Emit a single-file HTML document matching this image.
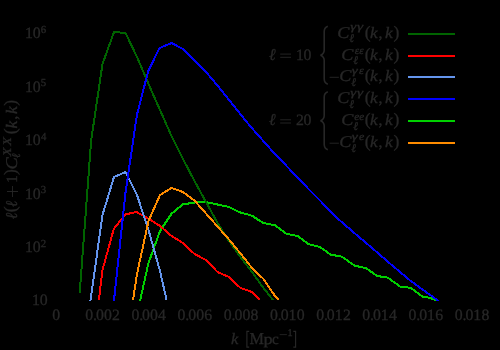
<!DOCTYPE html>
<html><head><meta charset="utf-8"><title>plot</title>
<style>
html,body{margin:0;padding:0;background:#000;}
body{width:500px;height:350px;overflow:hidden;font-family:"Liberation Serif",serif;}
svg{display:block;}
text{font-family:"Liberation Serif",serif;fill:#272727;stroke:#272727;stroke-width:0.32px;text-rendering:geometricPrecision;}
</style></head><body>
<svg width="500" height="350" viewBox="0 0 500 350">
<rect width="500" height="350" fill="#000"/>
<defs><filter id="f" x="0" y="0" width="500" height="350" filterUnits="userSpaceOnUse"><feOffset dx="0" dy="0"/></filter><clipPath id="ax"><rect x="56" y="20" width="415" height="281"/></clipPath></defs>
<g clip-path="url(#ax)" fill="none" stroke-width="2" stroke-linejoin="round" stroke-linecap="butt" shape-rendering="crispEdges">
<polyline stroke="#00d000" points="140,301 148.5,263 160,231 171.5,213.8 182.6,204.5 194.5,202.5 206,202 217.5,204.5 229,207 240,212.4 252,215.7 262.8,222.8 274.8,225.2 286.8,234 297.4,235.9 308.2,244 320,247 330.6,254.6 342,256.7 354.4,265.6 366,268.2 377.3,276 388,277.7 400,286.5 410.8,287.8 422.6,296.7 428,297.5 432.4,298.8 436.8,300.2"/>
<polyline stroke="#006400" points="79.7,293 91.2,140 102.5,64 114,32 125.5,33 136.8,56.5 148.3,83.5 160,110 171.5,136 183,159 194.5,181 206,202 217.5,223 229,241 240.5,257 252,272 263.5,288 273,300"/>
<polyline stroke="#ff0000" points="99,300 100.6,285 102.5,270 113.8,228.8 125.5,214.4 136.5,212 148.5,218.7 160,226 171.5,236 183,243 194.5,254 206,260 217.5,272 229,277 240.5,288 252,292 260,300"/>
<polyline stroke="#6495ed" points="90.4,301 102.5,215 114,177 125.5,172 137,195 148.5,230 160,271 166.6,300"/>
<polyline stroke="#0000ff" points="113.6,304 125.5,192.6 136.9,115 148.3,70.8 159.6,48 171.5,43 183,49 194.5,60.5 206,72 217.5,85.5 232.5,104.2 250,126 270,148.5 288,167.5 306.6,187 323,203.6 340,220.6 356,234.4 372,248 389.6,263.2 410,280.4 425,291.3 438.7,301"/>
<polyline stroke="#ff8c00" points="133,300 137,274 148.5,221 160,195 171.5,188 183,192 194.5,200.5 206,213.5 217.5,226.5 229,239.5 240.5,253.5 252,268 263.5,279 275,296 279,300"/>
</g>
<g stroke-width="2" fill="none" shape-rendering="crispEdges">
<line x1="408" x2="455" y1="34" y2="34" stroke="#006400"/>
<line x1="408" x2="455" y1="56" y2="56" stroke="#ff0000"/>
<line x1="408" x2="455" y1="77" y2="77" stroke="#6495ed"/>
<line x1="408" x2="455" y1="99" y2="99" stroke="#0000ff"/>
<line x1="408" x2="455" y1="121" y2="121" stroke="#00d000"/>
<line x1="408" x2="455" y1="143" y2="143" stroke="#ff8c00"/>
</g>
<g filter="url(#f)">
<text x="52.36" y="320.20" font-size="15.8">0</text>
<text x="85.20" y="320.20" font-size="15.8">0</text>
<text x="92.96" y="320.20" font-size="15.8">.</text>
<text x="95.90" y="320.20" font-size="15.8">0</text>
<text x="103.90" y="320.20" font-size="15.8">0</text>
<text x="111.99" y="320.20" font-size="15.8">2</text>
<text x="131.39" y="320.20" font-size="15.8">0</text>
<text x="139.15" y="320.20" font-size="15.8">.</text>
<text x="142.09" y="320.20" font-size="15.8">0</text>
<text x="150.09" y="320.20" font-size="15.8">0</text>
<text x="158.06" y="320.20" font-size="15.8">4</text>
<text x="177.58" y="320.20" font-size="15.8">0</text>
<text x="185.34" y="320.20" font-size="15.8">.</text>
<text x="188.28" y="320.20" font-size="15.8">0</text>
<text x="196.28" y="320.20" font-size="15.8">0</text>
<text x="204.18" y="320.20" font-size="15.8">6</text>
<text x="223.77" y="320.20" font-size="15.8">0</text>
<text x="231.53" y="320.20" font-size="15.8">.</text>
<text x="234.47" y="320.20" font-size="15.8">0</text>
<text x="242.47" y="320.20" font-size="15.8">0</text>
<text x="250.47" y="320.20" font-size="15.8">8</text>
<text x="269.96" y="320.20" font-size="15.8">0</text>
<text x="277.72" y="320.20" font-size="15.8">.</text>
<text x="280.66" y="320.20" font-size="15.8">0</text>
<text x="288.44" y="320.20" font-size="15.8">1</text>
<text x="296.66" y="320.20" font-size="15.8">0</text>
<text x="316.15" y="320.20" font-size="15.8">0</text>
<text x="323.91" y="320.20" font-size="15.8">.</text>
<text x="326.85" y="320.20" font-size="15.8">0</text>
<text x="334.63" y="320.20" font-size="15.8">1</text>
<text x="342.94" y="320.20" font-size="15.8">2</text>
<text x="362.34" y="320.20" font-size="15.8">0</text>
<text x="370.10" y="320.20" font-size="15.8">.</text>
<text x="373.04" y="320.20" font-size="15.8">0</text>
<text x="380.82" y="320.20" font-size="15.8">1</text>
<text x="389.01" y="320.20" font-size="15.8">4</text>
<text x="408.53" y="320.20" font-size="15.8">0</text>
<text x="416.29" y="320.20" font-size="15.8">.</text>
<text x="419.23" y="320.20" font-size="15.8">0</text>
<text x="427.01" y="320.20" font-size="15.8">1</text>
<text x="435.13" y="320.20" font-size="15.8">6</text>
<text x="454.72" y="320.20" font-size="15.8">0</text>
<text x="462.48" y="320.20" font-size="15.8">.</text>
<text x="465.42" y="320.20" font-size="15.8">0</text>
<text x="473.20" y="320.20" font-size="15.8">1</text>
<text x="481.42" y="320.20" font-size="15.8">8</text>
<text x="32.01" y="305.10" font-size="15.8">1</text>
<text x="39.80" y="305.10" font-size="15.8">0</text>
<text x="24.91" y="252.10" font-size="15.8">1</text>
<text x="32.80" y="252.10" font-size="15.8">0</text>
<text x="40.83" y="246.50" font-size="10.8">2</text>
<text x="24.91" y="198.65" font-size="15.8">1</text>
<text x="32.80" y="198.65" font-size="15.8">0</text>
<text x="40.78" y="193.05" font-size="10.8">3</text>
<text x="24.91" y="145.20" font-size="15.8">1</text>
<text x="32.80" y="145.20" font-size="15.8">0</text>
<text x="41.09" y="139.60" font-size="10.8">4</text>
<text x="24.91" y="91.75" font-size="15.8">1</text>
<text x="32.80" y="91.75" font-size="15.8">0</text>
<text x="40.67" y="86.15" font-size="10.8">5</text>
<text x="24.91" y="38.30" font-size="15.8">1</text>
<text x="32.80" y="38.30" font-size="15.8">0</text>
<text x="40.84" y="32.70" font-size="10.8">6</text>
<text transform="translate(231.02,343.50) scale(1.033,1)" font-size="16" font-style="italic">k</text>
<path d="M249.2,331.4 H246.9 V347.1 H249.2 M293.3,331.4 H295.6 V347.1 H293.3" stroke="#272727" stroke-width="1.15" fill="none"/>
<text transform="translate(249.43,343.50) scale(0.973,1)" font-size="16.7">M</text>
<text transform="translate(263.51,343.50) scale(1.175,1)" font-size="15.5">p</text>
<text transform="translate(272.02,343.50) scale(0.981,1)" font-size="15.5">c</text>
<path d="M279.70,334.60 L286.90,334.60" stroke="#272727" stroke-width="0.8" fill="none"/>
<text x="287.39" y="336.40" font-size="10.4">1</text>
<g transform="translate(16.8,219.2) rotate(-90)">
<text transform="translate(-0.12,0.00) scale(0.945,1)" font-size="16.5" font-style="italic">ℓ</text>
<text x="6.83" y="-0.80" font-size="17.6">(</text>
<text transform="translate(12.30,0.00) scale(0.899,1)" font-size="16.5" font-style="italic">ℓ</text>
<path d="M22.20,-4.30 L33.20,-4.30" stroke="#272727" stroke-width="0.9" fill="none"/>
<path d="M27.70,-9.80 L27.70,1.20" stroke="#272727" stroke-width="0.9" fill="none"/>
<text x="36.21" y="0.00" font-size="15.8">1</text>
<text x="44.13" y="-0.80" font-size="17.6">)</text>
<text transform="translate(49.58,0.00) scale(1.120,1)" font-size="16.4" font-style="italic">C</text>
<text transform="translate(61.18,3.10) scale(0.910,1)" font-size="11.8" font-style="italic">ℓ</text>
<text transform="translate(63.07,-6.00) scale(1.224,1)" font-size="11.6" font-style="italic">X</text>
<text transform="translate(73.47,-6.00) scale(1.224,1)" font-size="11.6" font-style="italic">X</text>
<text x="84.83" y="-0.80" font-size="17.6">(</text>
<text transform="translate(90.70,0.00) scale(1.076,1)" font-size="16" font-style="italic">k</text>
<text x="99.49" y="0.00" font-size="16">,</text>
<text transform="translate(105.10,0.00) scale(1.076,1)" font-size="16" font-style="italic">k</text>
<text x="113.43" y="-0.80" font-size="17.6">)</text>
</g>
<text transform="translate(337.19,37.80) scale(1.110,1)" font-size="16.4" font-style="italic">C</text>
<text transform="translate(349.17,42.00) scale(0.953,1)" font-size="11.8" font-style="italic">ℓ</text>
<text transform="translate(350.32,30.40) scale(1.394,1)" font-size="11" font-style="italic">γ</text>
<text transform="translate(357.02,30.40) scale(1.416,1)" font-size="11" font-style="italic">γ</text>
<text x="364.73" y="37.80" font-size="17.6">(</text>
<text transform="translate(370.10,37.80) scale(1.076,1)" font-size="16" font-style="italic">k</text>
<text x="378.49" y="37.80" font-size="16">,</text>
<text transform="translate(384.90,37.80) scale(1.091,1)" font-size="16" font-style="italic">k</text>
<text x="393.43" y="37.80" font-size="17.6">)</text>
<text transform="translate(341.29,59.70) scale(1.110,1)" font-size="16.4" font-style="italic">C</text>
<text transform="translate(353.27,63.90) scale(0.953,1)" font-size="11.8" font-style="italic">ℓ</text>
<text transform="translate(354.76,54.30) scale(1.003,1)" font-size="11" font-style="italic">ε</text>
<text transform="translate(359.37,54.30) scale(0.979,1)" font-size="11" font-style="italic">ε</text>
<text x="364.73" y="59.70" font-size="17.6">(</text>
<text transform="translate(370.10,59.70) scale(1.076,1)" font-size="16" font-style="italic">k</text>
<text x="378.49" y="59.70" font-size="16">,</text>
<text transform="translate(384.90,59.70) scale(1.091,1)" font-size="16" font-style="italic">k</text>
<text x="393.43" y="59.70" font-size="17.6">)</text>
<path d="M329.60,77.30 L338.90,77.30" stroke="#272727" stroke-width="0.9" fill="none"/>
<text transform="translate(339.19,81.40) scale(1.110,1)" font-size="16.4" font-style="italic">C</text>
<text transform="translate(351.17,85.60) scale(0.953,1)" font-size="11.8" font-style="italic">ℓ</text>
<text transform="translate(351.73,74.40) scale(1.371,1)" font-size="11" font-style="italic">γ</text>
<text transform="translate(358.95,74.40) scale(1.076,1)" font-size="11" font-style="italic">ε</text>
<text x="364.73" y="81.40" font-size="17.6">(</text>
<text transform="translate(370.10,81.40) scale(1.076,1)" font-size="16" font-style="italic">k</text>
<text x="378.49" y="81.40" font-size="16">,</text>
<text transform="translate(384.90,81.40) scale(1.091,1)" font-size="16" font-style="italic">k</text>
<text x="393.43" y="81.40" font-size="17.6">)</text>
<text transform="translate(337.19,103.40) scale(1.110,1)" font-size="16.4" font-style="italic">C</text>
<text transform="translate(349.17,107.60) scale(0.953,1)" font-size="11.8" font-style="italic">ℓ</text>
<text transform="translate(350.32,96.00) scale(1.394,1)" font-size="11" font-style="italic">γ</text>
<text transform="translate(357.02,96.00) scale(1.416,1)" font-size="11" font-style="italic">γ</text>
<text x="364.73" y="103.40" font-size="17.6">(</text>
<text transform="translate(370.10,103.40) scale(1.076,1)" font-size="16" font-style="italic">k</text>
<text x="378.49" y="103.40" font-size="16">,</text>
<text transform="translate(384.90,103.40) scale(1.091,1)" font-size="16" font-style="italic">k</text>
<text x="393.43" y="103.40" font-size="17.6">)</text>
<text transform="translate(341.29,125.40) scale(1.110,1)" font-size="16.4" font-style="italic">C</text>
<text transform="translate(353.27,129.60) scale(0.953,1)" font-size="11.8" font-style="italic">ℓ</text>
<text transform="translate(354.25,119.80) scale(1.047,1)" font-size="11" font-style="italic">e</text>
<text transform="translate(359.25,119.80) scale(1.024,1)" font-size="11" font-style="italic">e</text>
<text x="364.73" y="125.40" font-size="17.6">(</text>
<text transform="translate(370.10,125.40) scale(1.076,1)" font-size="16" font-style="italic">k</text>
<text x="378.49" y="125.40" font-size="16">,</text>
<text transform="translate(384.90,125.40) scale(1.091,1)" font-size="16" font-style="italic">k</text>
<text x="393.43" y="125.40" font-size="17.6">)</text>
<path d="M329.60,143.20 L338.90,143.20" stroke="#272727" stroke-width="0.9" fill="none"/>
<text transform="translate(339.19,147.30) scale(1.110,1)" font-size="16.4" font-style="italic">C</text>
<text transform="translate(351.17,151.50) scale(0.953,1)" font-size="11.8" font-style="italic">ℓ</text>
<text transform="translate(351.73,140.30) scale(1.371,1)" font-size="11" font-style="italic">γ</text>
<text transform="translate(358.93,140.30) scale(1.094,1)" font-size="11" font-style="italic">e</text>
<text x="364.73" y="147.30" font-size="17.6">(</text>
<text transform="translate(370.10,147.30) scale(1.076,1)" font-size="16" font-style="italic">k</text>
<text x="378.49" y="147.30" font-size="16">,</text>
<text transform="translate(384.90,147.30) scale(1.091,1)" font-size="16" font-style="italic">k</text>
<text x="393.43" y="147.30" font-size="17.6">)</text>
<text transform="translate(268.97,59.70) scale(0.961,1)" font-size="16.5" font-style="italic">ℓ</text>
<path d="M280.20,54.10 L291.00,54.10" stroke="#272727" stroke-width="0.9" fill="none"/>
<path d="M280.20,57.30 L291.00,57.30" stroke="#272727" stroke-width="0.9" fill="none"/>
<text x="296.01" y="59.70" font-size="15.8">1</text>
<text x="303.40" y="59.70" font-size="15.8">0</text>
<text transform="translate(268.97,125.40) scale(0.961,1)" font-size="16.5" font-style="italic">ℓ</text>
<path d="M280.20,119.80 L291.00,119.80" stroke="#272727" stroke-width="0.9" fill="none"/>
<path d="M280.20,123.00 L291.00,123.00" stroke="#272727" stroke-width="0.9" fill="none"/>
<text x="295.91" y="125.40" font-size="15.8">2</text>
<text x="303.40" y="125.40" font-size="15.8">0</text>
<path d="M327.8,26.2 C325.4,27 324.2,28.7 324.2,31.7 L324.2,50.2 C324.2,52.7 322.7,54.2 320.6,55.2 C322.7,56.2 324.2,57.7 324.2,60.2 L324.2,78.7 C324.2,81.7 325.4,83.4 327.8,84.2" fill="none" stroke="#272727" stroke-width="1.6" stroke-linejoin="bevel"/>
<path d="M327.8,91.8 C325.4,92.6 324.2,94.3 324.2,97.3 L324.2,115.8 C324.2,118.3 322.7,119.8 320.6,120.8 C322.7,121.8 324.2,123.3 324.2,125.8 L324.2,144.3 C324.2,147.3 325.4,149 327.8,149.8" fill="none" stroke="#272727" stroke-width="1.6" stroke-linejoin="bevel"/>
</g>
</svg></body></html>
